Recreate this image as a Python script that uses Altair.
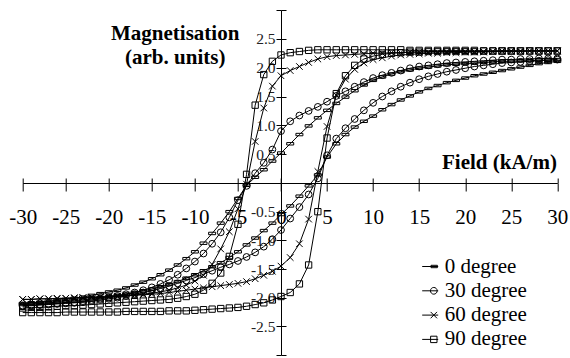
import altair as alt
import pandas as pd

FIELD = [-30, -29, -28, -27, -26, -25, -24, -23, -22, -21,
         -20, -19, -18, -17, -16, -15, -14, -13, -12, -11,
         -10, -9, -8, -7, -6, -5, -4, -3, -2, -1,
         0, 1, 2, 3, 4, 5, 6, 7, 8, 9,
         10, 11, 12, 13, 14, 15, 16, 17, 18, 19,
         20, 21, 22, 23, 24, 25, 26, 27, 28, 29, 30]

SERIES = ["0 degree", "30 degree", "60 degree", "90 degree"]

# descending-field (upper) and ascending-field (lower) branches, values at FIELD
UP_0 = [-2.10, -2.09, -2.08, -2.06, -2.05, -2.03, -2.01, -1.99, -1.96, -1.93,
        -1.90, -1.87, -1.83, -1.78, -1.73, -1.67, -1.60, -1.52, -1.43, -1.32,
        -1.20, -1.05, -0.88, -0.70, -0.50, -0.27, -0.04, 0.10, 0.23, 0.38,
        0.52, 0.68, 0.84, 0.99, 1.13, 1.26, 1.38, 1.49, 1.60, 1.70,
        1.78, 1.84, 1.89, 1.93, 1.96, 1.99, 2.01, 2.03, 2.05, 2.06,
        2.07, 2.08, 2.09, 2.10, 2.11, 2.11, 2.12, 2.12, 2.13, 2.13, 2.14]
LOW_0 = [-2.12, -2.11, -2.10, -2.09, -2.08, -2.07, -2.05, -2.04, -2.02, -2.00,
         -1.98, -1.96, -1.94, -1.91, -1.88, -1.85, -1.81, -1.77, -1.72, -1.66,
         -1.60, -1.53, -1.46, -1.39, -1.30, -1.20, -1.08, -0.96, -0.83, -0.70,
         -0.55, -0.40, -0.23, -0.05, 0.14, 0.45, 0.68, 0.84, 0.97, 1.07,
         1.16, 1.27, 1.36, 1.44, 1.51, 1.58, 1.64, 1.69, 1.74, 1.78,
         1.82, 1.86, 1.89, 1.92, 1.95, 1.98, 2.01, 2.04, 2.07, 2.09, 2.11]
UP_30 = [-2.14, -2.13, -2.12, -2.11, -2.10, -2.09, -2.08, -2.06, -2.04, -2.02,
         -2.00, -1.97, -1.94, -1.91, -1.87, -1.82, -1.76, -1.69, -1.60, -1.49,
         -1.37, -1.23, -1.06, -0.86, -0.60, -0.30, -0.05, 0.17, 0.35, 0.58,
         0.90, 1.07, 1.17, 1.25, 1.32, 1.41, 1.51, 1.59, 1.67, 1.75,
         1.82, 1.87, 1.91, 1.95, 1.99, 2.02, 2.04, 2.06, 2.08, 2.09,
         2.10, 2.11, 2.12, 2.13, 2.14, 2.14, 2.15, 2.15, 2.16, 2.16, 2.16]
LOW_30 = [-2.15, -2.14, -2.13, -2.12, -2.11, -2.10, -2.09, -2.08, -2.06, -2.04,
          -2.02, -2.00, -1.97, -1.94, -1.91, -1.88, -1.84, -1.80, -1.75, -1.70,
          -1.65, -1.59, -1.53, -1.47, -1.42, -1.36, -1.29, -1.21, -1.11, -0.98,
          -0.82, -0.62, -0.42, -0.20, 0.08, 0.48, 0.77, 0.95, 1.11, 1.26,
          1.39, 1.50, 1.59, 1.67, 1.74, 1.80, 1.85, 1.89, 1.93, 1.96,
          1.99, 2.02, 2.04, 2.06, 2.08, 2.09, 2.10, 2.11, 2.12, 2.13, 2.14]
UP_60 = [-2.03, -2.03, -2.02, -2.02, -2.01, -2.01, -2.00, -2.00, -1.99, -1.99,
         -1.98, -1.97, -1.96, -1.95, -1.94, -1.92, -1.90, -1.87, -1.83, -1.78,
         -1.71, -1.61, -1.42, -1.15, -0.85, -0.45, -0.02, 0.72, 1.30, 1.68,
         1.86, 1.95, 2.02, 2.09, 2.15, 2.19, 2.21, 2.22, 2.23, 2.24,
         2.25, 2.25, 2.26, 2.26, 2.27, 2.27, 2.27, 2.27, 2.28, 2.28,
         2.28, 2.28, 2.28, 2.28, 2.29, 2.29, 2.29, 2.29, 2.29, 2.29, 2.29]
LOW_60 = [-2.03, -2.03, -2.02, -2.02, -2.02, -2.01, -2.01, -2.00, -2.00, -1.99,
          -1.99, -1.98, -1.97, -1.96, -1.95, -1.94, -1.93, -1.91, -1.89, -1.87,
          -1.85, -1.83, -1.81, -1.79, -1.77, -1.75, -1.72, -1.67, -1.61, -1.54,
          -1.45, -1.30, -1.06, -0.63, 0.20, 0.98, 1.52, 1.80, 1.97, 2.08,
          2.14, 2.17, 2.20, 2.22, 2.23, 2.24, 2.25, 2.25, 2.26, 2.26,
          2.27, 2.27, 2.27, 2.28, 2.28, 2.28, 2.28, 2.29, 2.29, 2.29, 2.29]
UP_90 = [-2.18, -2.17, -2.17, -2.16, -2.15, -2.14, -2.14, -2.13, -2.12, -2.11,
         -2.10, -2.09, -2.08, -2.07, -2.06, -2.05, -2.04, -2.03, -2.01, -1.98,
         -1.94, -1.87, -1.75, -1.57, -1.28, -0.72, 0.15, 1.35, 1.88, 2.11,
         2.22, 2.26, 2.28, 2.30, 2.31, 2.31, 2.31, 2.31, 2.31, 2.31,
         2.31, 2.31, 2.31, 2.31, 2.30, 2.30, 2.30, 2.30, 2.30, 2.30,
         2.30, 2.30, 2.29, 2.29, 2.29, 2.29, 2.29, 2.29, 2.29, 2.29, 2.29]
LOW_90 = [-2.26, -2.26, -2.26, -2.26, -2.26, -2.25, -2.25, -2.25, -2.25, -2.25,
          -2.25, -2.25, -2.24, -2.24, -2.24, -2.24, -2.24, -2.23, -2.23, -2.23,
          -2.22, -2.21, -2.20, -2.19, -2.18, -2.17, -2.15, -2.12, -2.09, -2.04,
          -1.98, -1.91, -1.76, -1.43, -0.50, 0.78, 1.55, 1.86, 2.04, 2.15,
          2.20, 2.23, 2.25, 2.26, 2.27, 2.27, 2.28, 2.28, 2.28, 2.28,
          2.28, 2.28, 2.29, 2.29, 2.29, 2.29, 2.29, 2.29, 2.29, 2.29, 2.29]

X_TICKS = [-30, -25, -20, -15, -10, -5, 0, 5, 10, 15, 20, 25, 30]
Y_TICKS = [-3.0, -2.5, -2.0, -1.5, -1.0, -0.5, 0.0, 0.5, 1.0, 1.5, 2.0, 2.5, 3.0]

rows = []
for name, up, low in [(SERIES[0], UP_0, LOW_0), (SERIES[1], UP_30, LOW_30),
                      (SERIES[2], UP_60, LOW_60), (SERIES[3], UP_90, LOW_90)]:
    for f, v in zip(FIELD, up):
        rows.append({"field": f, "m": v, "series": name, "curve": name + " up"})
    for f, v in zip(FIELD, low):
        rows.append({"field": f, "m": v, "series": name, "curve": name + " low"})
df = pd.DataFrame(rows)

W, H = 534.6, 345
X0 = 258.3   # pixel position of field = 0
Y0 = 173     # pixel position of magnetisation = 0
F = "Liberation Serif"

xscale = alt.Scale(domain=[-30, 0, 30], range=[0, X0, W], nice=False, zero=False)
yscale = alt.Scale(domain=[-3, 0, 3], range=[H, Y0, 0], nice=False, zero=False)

x_lab = "datum.value < 0 ? '-' + abs(datum.value) : '' + datum.value"
y_lab = ("datum.value == 0 || abs(datum.value) > 2.9 ? '' : "
         "(datum.value < 0 ? '-' : '') + format(abs(datum.value), '.1f')")

base = alt.Chart(df)

lines = base.mark_line(color="black", strokeWidth=1).encode(
    x=alt.X("field:Q", scale=xscale,
            axis=alt.Axis(orient="bottom", offset=-(H - Y0), values=X_TICKS,
                          tickSize=8, tickColor="black", tickWidth=1,
                          domainColor="black", domainWidth=1, grid=False,
                          labelFont=F, labelFontSize=21, labelColor="black",
                          labelPadding=15, labelExpr=x_lab, labelFlush=False,
                          labelOverlap=False,
                          title="Field (kA/m)", titleFont=F, titleFontSize=21,
                          titleFontWeight="bold", titleColor="black",
                          titleAlign="right", titleBaseline="alphabetic",
                          titleX=533.7, titleY=-15)),
    y=alt.Y("m:Q", scale=yscale,
            axis=alt.Axis(orient="left", offset=-X0, values=Y_TICKS,
                          tickSize=5, tickColor="black", tickWidth=1,
                          domainColor="black", domainWidth=1, grid=False,
                          labelFont=F, labelFontSize=15.5, labelColor="#222",
                          labelPadding=1, labelExpr=y_lab, labelOverlap=False,
                          labelFlush=False,
                          title=["Magnetisation", "(arb. units)"], titleFont=F,
                          titleFontSize=21, titleFontWeight="bold",
                          titleColor="black", titleAngle=0, titleAlign="center",
                          titleBaseline="alphabetic", titleLineHeight=24,
                          titleX=-106.3, titleY=29)),
    detail="curve:N",
    order="field:Q",
)

MARKERS = ["M-1,-0.35H1V0.35H-1Z", "circle",
           "M-1,-1L1,1M-1,1L1,-1", "square"]
MARKER_SIZES = [49, 40, 36, 45]

points = base.mark_point(filled=False, color="black", strokeWidth=1, opacity=1).encode(
    x=alt.X("field:Q", scale=xscale,
            axis=alt.Axis(orient="top", offset=-Y0, values=X_TICKS, tickSize=5,
                          tickColor="black", labels=False, domain=False,
                          grid=False, title=None)),
    y=alt.Y("m:Q", scale=yscale,
            axis=alt.Axis(orient="right", offset=-(W - X0), values=Y_TICKS,
                          tickSize=5, tickColor="black", labels=False,
                          domain=False, grid=False, title=None)),
    shape=alt.Shape("series:N", scale=alt.Scale(domain=SERIES, range=MARKERS),
                    legend=None),
    size=alt.Size("series:N", scale=alt.Scale(domain=SERIES, range=MARKER_SIZES),
                  legend=None),
)

LEGEND_SYMBOLS = [
    "M-1,0H1M0.1,-0.15H0.9V0.15H0.1Z",
    "M-1,0H1M0.87,0A0.42,0.42 0 1,1 0.03,0A0.42,0.42 0 1,1 0.87,0",
    "M-1,0H1M0.05,-0.4L0.85,0.4M0.05,0.4L0.85,-0.4",
    "M-1,0H1M0.05,-0.4H0.85V0.4H0.05Z",
]

legend_layer = base.mark_point(filled=False, color="black", strokeWidth=1, opacity=0).encode(
    x=alt.X("field:Q", scale=xscale, axis=None),
    y=alt.Y("m:Q", scale=yscale, axis=None),
    shape=alt.Shape("series:N",
                    scale=alt.Scale(domain=SERIES, range=LEGEND_SYMBOLS),
                    legend=alt.Legend(title=None, orient="none", legendX=397,
                                      legendY=246, padding=0, labelFont=F,
                                      labelFontSize=21, labelColor="black",
                                      labelOffset=4, rowPadding=2.3,
                                      symbolSize=256, symbolStrokeWidth=1,
                                      symbolStrokeColor="black",
                                      symbolFillColor="transparent",
                                      symbolOpacity=1)),
)

chart = alt.layer(lines, points, legend_layer).resolve_axis(
    x="independent", y="independent"
).resolve_scale(shape="independent", size="independent").properties(
    width=W, height=H,
    autosize=alt.AutoSizeParams(type="none"),
    padding={"left": 22.7, "top": 10, "right": 12.7, "bottom": 3},
    view=alt.ViewBackground(stroke=None),
)

chart.save("out.html", embed_options={"renderer": "svg", "actions": False})
